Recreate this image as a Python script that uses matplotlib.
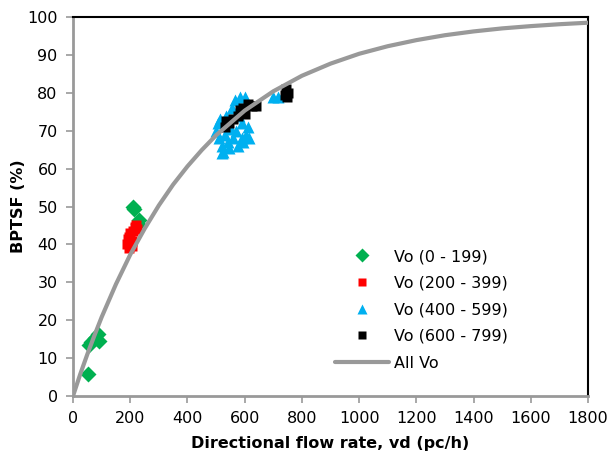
import numpy as np
import matplotlib.pyplot as plt

# Points (vd en pc/h, BPTSF en %)
vd_g1 = [53, 56, 62, 78, 86, 92, 208, 214, 230, 226]
bp_g1 = [5.8, 13.5, 14.2, 15.3, 16.4, 14.5, 49.8, 49.3, 46.4, 45.3]

vd_g2 = [190, 192, 195, 198, 200, 205, 210, 215, 220, 205, 225, 195]
bp_g2 = [40.0, 41.5, 42.0, 43.0, 40.5, 41.0, 43.5, 44.5, 45.0, 39.5, 44.0, 39.0]

vd_g3 = [500, 505, 510, 515, 520, 525, 530, 535, 540, 545, 550, 555, 560,
         565, 570, 575, 580, 585, 590, 595, 600, 605, 610, 615, 590, 700,
         715, 735, 520, 540]
bp_g3 = [70.0, 72.0, 68.0, 73.0, 66.0, 64.5, 69.0, 74.0, 67.0, 65.5, 71.0,
         76.0, 68.0, 78.0, 70.0, 66.0, 74.0, 79.0, 72.0, 67.0, 79.0, 69.0,
         71.0, 68.0, 68.0, 79.0, 79.0, 79.5, 64.0, 70.5]

vd_g4 = [530, 535, 545, 560, 575, 585, 595, 600, 610, 625, 640, 740, 745,
         750, 748]
bp_g4 = [71.0, 72.5, 72.0, 73.0, 74.0, 75.5, 76.0, 74.5, 77.0, 76.5, 76.5,
         79.5, 81.0, 80.0, 79.0]

# Courbe "All Vo" lue point par point
vd_all = [0, 25, 50, 75, 100, 150, 200, 250, 300, 350, 400, 450, 500, 600,
          700, 800, 900, 1000, 1100, 1200, 1300, 1400, 1500, 1600, 1700, 1800]
bp_all = [0.0, 5.7, 11.0, 16.0, 20.8, 29.5, 37.3, 44.1, 50.3, 55.8, 60.6,
          64.9, 68.8, 75.3, 80.4, 84.5, 87.7, 90.3, 92.3, 93.9, 95.2, 96.2,
          97.0, 97.6, 98.1, 98.5]

plt.rcParams['font.family'] = ['DejaVu Sans']

fig = plt.figure(figsize=(6.1, 4.65), dpi=100)
ax = fig.add_axes([0.1197, 0.1484, 0.8443, 0.815])

ax.plot(vd_g1, bp_g1, 'D', color='#00B050', ms=8, mec='none', label='Vo (0 - 199)', zorder=3)
ax.plot(vd_g2, bp_g2, 's', color='#FF0000', ms=7.5, mec='none', label='Vo (200 - 399)', zorder=3)
ax.plot(vd_g3, bp_g3, '^', color='#00B0F0', ms=8.5, mec='none', label='Vo (400 - 599)', zorder=3)
ax.plot(vd_g4, bp_g4, 's', color='black', ms=7.5, mec='none', label='Vo (600 - 799)', zorder=4)
ax.plot(vd_all, bp_all, '-', color='#999999', lw=3, label='All Vo', zorder=5,
        solid_capstyle='round')

ax.set_xlim(0, 1800)
ax.set_ylim(0, 100)
ax.set_xticks(np.arange(0, 1801, 200))
ax.set_yticks(np.arange(0, 101, 10))
ax.tick_params(direction='out', length=5, width=1.2, color='#999999',
               labelsize=11.5, pad=6)

for s in ['left', 'bottom']:
    ax.spines[s].set_color('#999999')
    ax.spines[s].set_linewidth(2)
for s in ['top', 'right']:
    ax.spines[s].set_color('black')
    ax.spines[s].set_linewidth(1.5)

ax.set_xlabel('Directional flow rate, vd (pc/h)', fontsize=11.5, fontweight='bold', labelpad=7)
ax.set_ylabel('BPTSF (%)', fontsize=11.5, fontweight='bold', labelpad=1)

leg = ax.legend(loc='upper left', bbox_to_anchor=(335 / 610, 1 - 249 / 465),
                bbox_transform=fig.transFigure, frameon=False, fontsize=11.5,
                handlelength=3.4, handletextpad=0.3, labelspacing=0.73,
                borderpad=0, borderaxespad=0, markerscale=0.85)

fig.savefig('out.png', dpi=100)
